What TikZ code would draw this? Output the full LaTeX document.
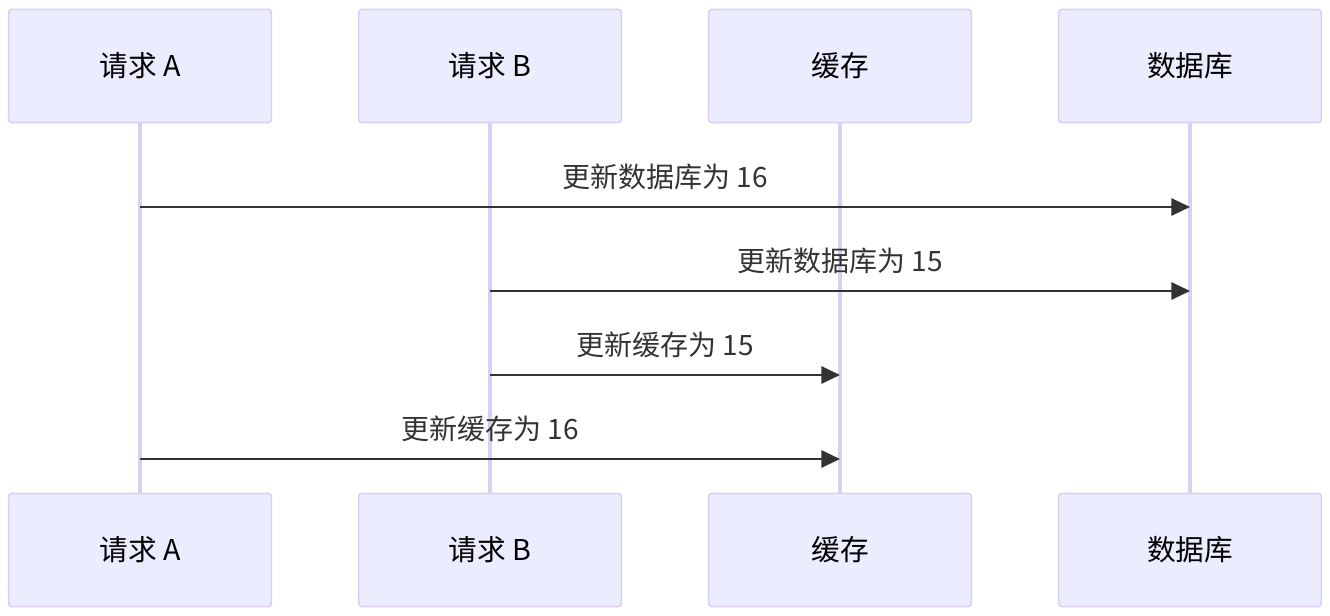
\documentclass[tikz,border=0pt]{standalone}
\usepackage{fontspec}
\setmainfont{Noto Sans CJK SC}
\usetikzlibrary{arrows.meta,positioning}
\definecolor{actorfill}{RGB}{236,236,255}
\definecolor{actorline}{RGB}{218,206,243}
\definecolor{msgdark}{RGB}{51,51,51}

\begin{document}
\begin{tikzpicture}[
        x=0.75pt, y=-0.75pt,
        actor/.style={rectangle, rounded corners=2.5pt, draw=actorline, line width=1.2pt, fill=actorfill, minimum width=197pt, minimum height=85pt, font=\fontsize{21.5}{25}\selectfont, text=black},
        lifeline/.style={draw=actorline, line width=2.5pt},
        msg/.style={-{Triangle[length=14pt, width=13pt]}, draw=msgdark, line width=1.5pt},
        msglabel/.style={font=\fontsize{21}{25}\selectfont, text=msgdark}
    ]
        \useasboundingbox (0,0) rectangle (1330,616);

        % participants
        \node[actor] (reqA) at (140,66) {\raisebox{-1.5pt}{请求 A}};
        \node[actor] (reqB) at (490,66) {\raisebox{-1.5pt}{请求 B}};
        \node[actor] (cache) at (840,66) {\raisebox{-1.5pt}{缓存}};
        \node[actor] (db) at (1190,66) {\raisebox{-1.5pt}{数据库}};
        \node[actor] (reqAb) at (140,550) {\raisebox{-1.5pt}{请求 A}};
        \node[actor] (reqBb) at (490,550) {\raisebox{-1.5pt}{请求 B}};
        \node[actor] (cacheb) at (840,550) {\raisebox{-1.5pt}{缓存}};
        \node[actor] (dbb) at (1190,550) {\raisebox{-1.5pt}{数据库}};

        \draw[lifeline] (reqA) -- (reqAb);
        \draw[lifeline] (reqB) -- (reqBb);
        \draw[lifeline] (cache) -- (cacheb);
        \draw[lifeline] (db) -- (dbb);

        % message rows
        \coordinate (row1) at (0,207);
        \coordinate (row2) at (0,291);
        \coordinate (row3) at (0,375);
        \coordinate (row4) at (0,459);

        \draw[msg] (reqA |- row1) -- node[msglabel, above=9pt] {更新数据库为 16} (db |- row1);
        \draw[msg] (reqB |- row2) -- node[msglabel, above=9pt] {更新数据库为 15} (db |- row2);
        \draw[msg] (reqB |- row3) -- node[msglabel, above=9pt] {更新缓存为 15} (cache |- row3);
        \draw[msg] (reqA |- row4) -- node[msglabel, above=9pt] {更新缓存为 16} (cache |- row4);

    \end{tikzpicture}
\end{document}
